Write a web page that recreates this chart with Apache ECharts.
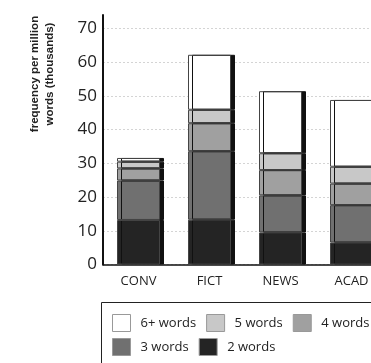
<!DOCTYPE html>
<html>
<head>
<meta charset="utf-8">
<script src="https://cdn.jsdelivr.net/npm/echarts@6/dist/echarts.min.js"></script>
<style>html,body{margin:0;padding:0;background:#fff;}#c{width:371px;height:363px;}</style>
</head>
<body>
<div id="c"></div>
<script>
const categories = ['CONV', 'FICT', 'NEWS', 'ACAD'];
const words2 = [13.2, 13.3, 9.5, 6.5];
const words3 = [11.7, 20.3, 11.0, 11.1];
const words4 = [3.6, 8.3, 7.5, 6.4];
const words5 = [2.0, 4.0, 5.0, 5.0];
const words6 = [1.1, 16.3, 18.4, 19.8];
const yTicks = [0, 10, 20, 30, 40, 50, 60, 70];

const chart = echarts.init(document.getElementById('c'), null, {renderer: 'canvas'});

function mk(name, data, color) {
  return {
    name: name, type: 'bar', stack: 'total', data: data, barWidth: 43,
    itemStyle: {color: color, borderColor: '#444', borderWidth: 1,
      shadowColor: '#111', shadowOffsetX: 4, shadowOffsetY: 0, shadowBlur: 0},
    emphasis: {disabled: true}
  };
}

const legendCommon = {
  left: 112, orient: 'horizontal', itemWidth: 18, itemHeight: 17, itemGap: 10, padding: 0,
  icon: 'rect', selectedMode: false,
  itemStyle: {borderColor: '#999', borderWidth: 1, shadowColor: 'rgba(0,0,0,0)', shadowOffsetX: 0, shadowBlur: 0},
  textStyle: {fontFamily: 'Open Sans', fontSize: 13, color: '#222', width: 60, padding: [0, 0, 0, 5]}
};

chart.setOption({
  animation: false,
  backgroundColor: '#fff',
  grid: {left: 103, width: 284, top: 15, bottom: 98.5, containLabel: false, outerBoundsMode: 'none'},
  xAxis: {
    type: 'category', data: categories,
    axisLine: {lineStyle: {color: '#111', width: 1.5}},
    axisTick: {show: false},
    axisLabel: {fontFamily: 'Open Sans', fontSize: 13, color: '#222', margin: 10}
  },
  yAxis: {
    type: 'value', min: 0, max: 74, interval: 10,
    axisLine: {show: true, lineStyle: {color: '#111', width: 2}},
    axisTick: {show: false},
    axisLabel: {fontFamily: 'Open Sans', fontSize: 17, color: '#222', margin: 6, showMaxLabel: false,
      padding: [0, 0, 10, 0],
      formatter: function (v) { return yTicks.indexOf(v) >= 0 ? String(v) : ''; }},
    splitLine: {show: true, showMaxLine: false, lineStyle: {color: '#d4d4d4', type: [2, 2], width: 1}}
  },
  legend: [
    Object.assign({}, legendCommon, {top: 314, data: ['6+ words', '5 words', '4 words']}),
    Object.assign({}, legendCommon, {top: 338, data: ['3 words', '2 words']})
  ],
  graphic: [
    {type: 'rect', shape: {x: 101.5, y: 302.5, width: 300, height: 100}, style: {fill: 'none', stroke: '#222', lineWidth: 1}, silent: true, z: -1},
    {type: 'text', x: 42, y: 74, rotation: Math.PI / 2,
      style: {text: 'frequency per million\nwords (thousands)', font: 'bold 11.5px "Liberation Sans"',
        fill: '#222', align: 'center', verticalAlign: 'middle', lineHeight: 15}}
  ],
  series: [
    mk('2 words', words2, '#242424'),
    mk('3 words', words3, '#707070'),
    mk('4 words', words4, '#a0a0a0'),
    mk('5 words', words5, '#c8c8c8'),
    mk('6+ words', words6, '#ffffff')
  ]
});
</script>
</body>
</html>
